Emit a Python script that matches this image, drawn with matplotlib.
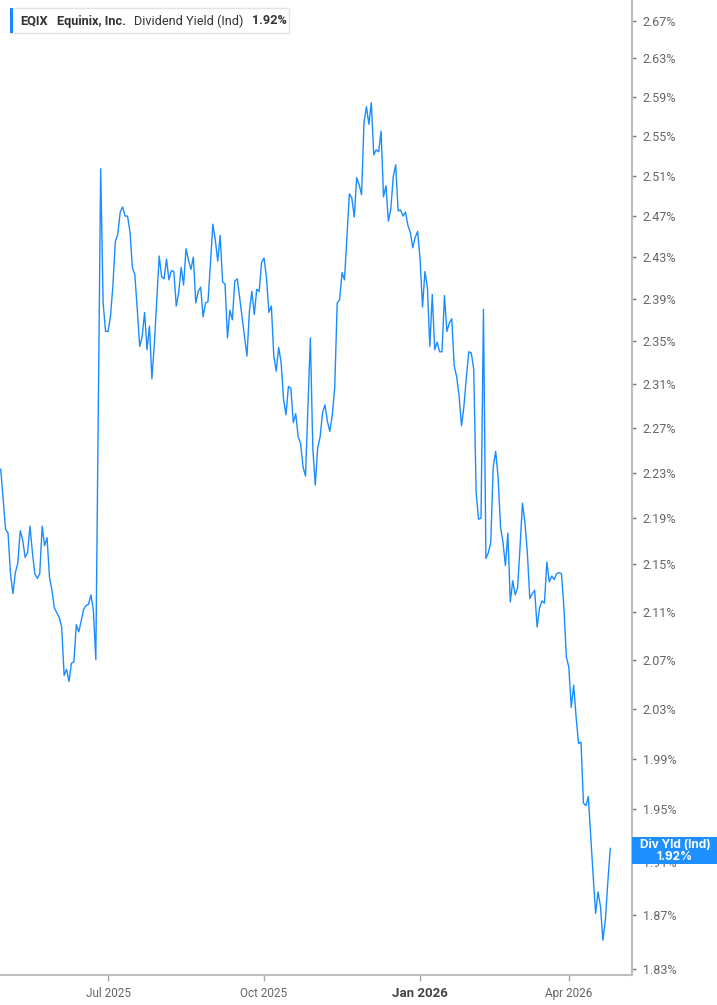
import numpy as np
import pandas as pd
import matplotlib
matplotlib.use("Agg")
import matplotlib.pyplot as plt
from matplotlib.patches import Rectangle
from matplotlib.ticker import FixedLocator, NullLocator

# EQIX dividend yield (Ind), in percent, one value per trading day
start_date = "2025-04-28"
market_holidays = ["2025-05-26", "2025-06-19", "2025-07-04", "2025-09-01",
                   "2025-11-27", "2025-12-25", "2026-01-01", "2026-01-19",
                   "2026-02-16", "2026-04-03"]
div_yield = [
    2.233, 2.206, 2.180, 2.177, 2.142, 2.125, 2.143, 2.151, 2.179, 2.171,
    2.156, 2.160, 2.183, 2.160, 2.142, 2.138, 2.142, 2.183, 2.166, 2.173,
    2.139, 2.128, 2.113, 2.109, 2.105, 2.097, 2.057, 2.062, 2.052, 2.067,
    2.068, 2.099, 2.093, 2.102, 2.112, 2.115, 2.116, 2.124, 2.111, 2.070,
    2.278,
    2.517, 2.386, 2.359, 2.359, 2.373, 2.402, 2.445, 2.452, 2.474, 2.479,
    2.470, 2.470, 2.455, 2.420, 2.413, 2.380, 2.345, 2.354, 2.377, 2.342,
    2.364, 2.315, 2.347, 2.389, 2.431, 2.411, 2.409, 2.428, 2.408, 2.417,
    2.416, 2.383, 2.396, 2.420, 2.403, 2.438, 2.427, 2.418, 2.430, 2.386,
    2.397,
    2.401, 2.373, 2.386, 2.387, 2.423, 2.462, 2.447, 2.426, 2.451, 2.406,
    2.404, 2.353, 2.379, 2.370, 2.407, 2.409, 2.391, 2.372, 2.354, 2.336,
    2.378, 2.397, 2.375, 2.399, 2.397, 2.425, 2.429, 2.410, 2.377, 2.383,
    2.336, 2.322, 2.344, 2.330, 2.296, 2.282, 2.308, 2.306, 2.275, 2.283,
    2.262, 2.256, 2.235,
    2.227, 2.290, 2.353, 2.252, 2.219, 2.252, 2.262, 2.284, 2.291, 2.276,
    2.267, 2.282, 2.307, 2.386, 2.389, 2.415, 2.408, 2.450, 2.492, 2.488,
    2.469, 2.508, 2.501, 2.491, 2.564, 2.580, 2.562, 2.584, 2.531, 2.536,
    2.534, 2.555, 2.489, 2.500, 2.465, 2.477, 2.509, 2.521, 2.475, 2.476,
    2.470,
    2.474, 2.461, 2.454, 2.439, 2.449, 2.455, 2.428, 2.382, 2.416, 2.401,
    2.345, 2.394, 2.342, 2.349, 2.340, 2.340, 2.393, 2.359, 2.367, 2.371,
    2.327, 2.317, 2.299, 2.272, 2.290, 2.317, 2.340, 2.339, 2.324, 2.212,
    2.189, 2.190, 2.380, 2.155, 2.160, 2.169, 2.235, 2.249, 2.226, 2.182,
    2.169,
    2.149, 2.177, 2.118, 2.136, 2.124, 2.130, 2.165, 2.203, 2.186, 2.160,
    2.121, 2.125, 2.128, 2.097, 2.113, 2.119, 2.117, 2.152, 2.135, 2.140,
    2.137, 2.142, 2.143, 2.142, 2.113, 2.072, 2.064, 2.031, 2.049, 2.023,
    2.002, 2.003, 1.955, 1.953, 1.960, 1.929, 1.899, 1.871, 1.887, 1.876,
    1.851, 1.866, 1.894, 1.920,
]
y_ticks = [1.83, 1.87, 1.91, 1.95, 1.99, 2.03, 2.07, 2.11, 2.15, 2.19, 2.23,
           2.27, 2.31, 2.35, 2.39, 2.43, 2.47, 2.51, 2.55, 2.59, 2.63, 2.67]
month_ticks = ["2025-07", "2025-10", "2026-01", "2026-04"]
month_labels = ["Jul 2025", "Oct 2025", "Jan 2026", "Apr 2026"]
last_value = "1.92%"

LINE = "#1a8cff"
W, H = 717, 1005


def fx(x):
    return x / W


def fy(y):
    return 1 - y / H


def main():
    dates = pd.bdate_range(start_date, periods=len(div_yield), freq="C",
                           holidays=market_holidays)
    xs = np.arange(len(dates))
    months = dates.strftime("%Y-%m")
    tick_pos = [int(np.argmax(months == m)) for m in month_ticks]

    fig = plt.figure(figsize=(W / 100, H / 100), dpi=100)
    ax = fig.add_axes([0, 30.3 / H, 631.7 / W, 974.7 / H])
    ax.plot(xs, div_yield, color=LINE, lw=1.0)

    ax.set_yscale("log")
    ax.set_ylim(1.8258, 2.692)
    ax.set_xlim(-0.3, 258.8)
    ax.yaxis.set_major_locator(FixedLocator(y_ticks))
    ax.yaxis.set_minor_locator(NullLocator())
    ax.set_yticklabels([f"{v:.2f}%" for v in y_ticks])
    ax.yaxis.tick_right()
    ax.set_xticks(tick_pos)
    ax.set_xticklabels(month_labels)

    for side in ["top", "left"]:
        ax.spines[side].set_visible(False)
    for side in ["right", "bottom"]:
        ax.spines[side].set_color("#bdbdbd")
        ax.spines[side].set_linewidth(1.5)

    ax.tick_params(axis="y", direction="out", length=3, width=1, color="#777",
                   labelsize=9, labelcolor="#666", pad=5)
    ax.tick_params(axis="x", direction="out", length=4, width=1, color="#aaa",
                   labelsize=8.5, labelcolor="#666", pad=5)
    for lab in ax.get_yticklabels() + ax.get_xticklabels():
        lab.set_family("Roboto")
    jan = ax.get_xticklabels()[2]
    jan.set_fontweight("bold")
    jan.set_color("#444")
    jan.set_fontsize(9.5)

    # legend box top left
    fig.patches.append(Rectangle((fx(10), fy(33)), fx(279), 25 / H,
                                 transform=fig.transFigure, fc="white",
                                 ec="#e3e3e3", lw=1))
    fig.patches.append(Rectangle((fx(10), fy(33)), fx(3), 25 / H,
                                 transform=fig.transFigure, fc=LINE, ec="none"))
    pieces = [("EQIX", "bold"), ("Equinix, Inc.", "bold"),
              ("Dividend Yield (Ind)", "normal"), (last_value, "bold")]
    renderer = fig.canvas.get_renderer()
    x = 20.5
    for txt, wt in pieces:
        t = fig.text(fx(x), fy(21), txt, fontsize=9.2, fontweight=wt,
                     family="Roboto", color="#333", va="center", ha="left")
        x = t.get_window_extent(renderer).x1 + 8.5

    # last value flag on the right axis
    fig.patches.append(Rectangle((fx(632), fy(864)), fx(85), 27 / H,
                                 transform=fig.transFigure, fc="#1e8fff",
                                 ec="none"))
    fig.text(fx(675), fy(845), "Div Yld (Ind)", fontsize=8.5, fontweight="bold",
             family="Inter", color="white", ha="center", va="center")
    fig.text(fx(675), fy(857), last_value, fontsize=8.5, fontweight="bold",
             family="Inter", color="white", ha="center", va="center")

    fig.savefig("out.png", dpi=100, facecolor="white")


if __name__ == "__main__":
    main()
